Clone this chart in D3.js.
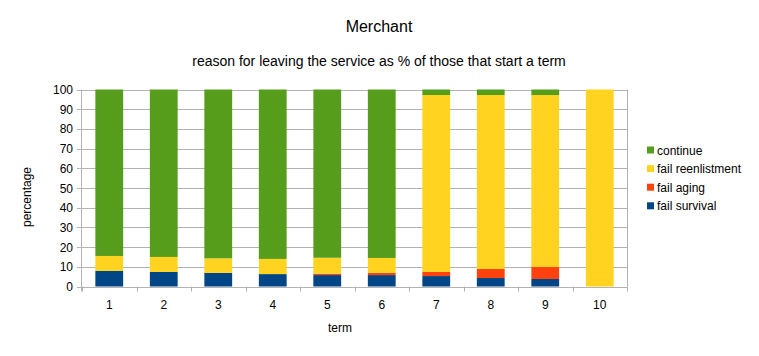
<!DOCTYPE html>
<html><head><meta charset="utf-8">
<script src="https://cdn.jsdelivr.net/npm/d3@7"></script>
<style>body{margin:0;background:#fff;} svg{font-family:"Liberation Sans",Arial,sans-serif;}</style>
</head><body><svg id="c" width="759" height="356"></svg>
<script>
const categories = ["1","2","3","4","5","6","7","8","9","10"];
const failSurvival = [7.9, 7.4, 6.9, 6.3, 5.8, 5.8, 5.3, 4.3, 3.8, 0];
const failAging = [0, 0, 0, 0, 0.7, 1.1, 2.1, 4.6, 6.1, 0];
const failReenlistment = [7.6, 7.6, 7.4, 7.7, 8.1, 7.6, 89.8, 88.3, 87.3, 100];
const continueVals = [84.5, 85.0, 85.7, 86.0, 85.4, 85.5, 2.8, 2.8, 2.8, 0];
const yTicks = [0,10,20,30,40,50,60,70,80,90,100];
const seriesNames = ["fail survival","fail aging","fail reenlistment","continue"];
const colors = ["#004586","#ff420e","#ffd320","#579d1c"];

const svg = d3.select("#c");
const L = 82, R = 627, T = 89.5, B = 286.5;
const x = d3.scaleBand().domain(categories).range([L, R]).paddingInner(0.49).paddingOuter(0.245);
const xb = d3.scaleBand().domain(categories).range([L, R]);
const y = d3.scaleLinear().domain([0,100]).range([B, T]);

const rows = categories.map((c,i)=>({cat:c, s0:failSurvival[i], s1:failAging[i], s2:failReenlistment[i], s3:continueVals[i]}));
const stack = d3.stack().keys(["s0","s1","s2","s3"])(rows);

// grid
svg.append("g").selectAll("line").data(yTicks).join("line")
  .attr("x1", L-5).attr("x2", R).attr("y1", d=>Math.round(y(d))+0.5).attr("y2", d=>Math.round(y(d))+0.5)
  .attr("stroke", "#b3b3b3").attr("stroke-width", 1);
svg.append("line").attr("x1", R+0.5).attr("x2", R+0.5).attr("y1", T).attr("y2", B).attr("stroke","#b3b3b3");
svg.append("line").attr("x1", L-0.5).attr("x2", L-0.5).attr("y1", T).attr("y2", B+5).attr("stroke","#b3b3b3");
const bounds = categories.map(c=>xb(c)).concat([R]);
svg.append("g").selectAll("line").data(bounds).join("line")
  .attr("x1", d=>Math.round(d)+0.5).attr("x2", d=>Math.round(d)+0.5).attr("y1", B).attr("y2", B+5)
  .attr("stroke","#b3b3b3");

// bars
stack.forEach((s,k)=>{
  svg.append("g").attr("fill", colors[k]).selectAll("rect").data(s).join("rect")
    .attr("x", d=>x(d.data.cat)).attr("width", x.bandwidth())
    .attr("y", d=>y(d[1])).attr("height", d=>Math.max(0, y(d[0])-y(d[1])));
});

svg.append("g").selectAll("text").data(yTicks).join("text")
  .attr("x", L-9).attr("y", d=>y(d)+4.5).attr("text-anchor","end")
  .attr("font-size", 12).attr("fill","#000").text(d=>d);
svg.append("g").selectAll("text").data(categories).join("text")
  .attr("x", d=>xb(d)+xb.bandwidth()/2).attr("y", B+22).attr("text-anchor","middle")
  .attr("font-size", 12).attr("fill","#000").text(d=>d);

svg.append("text").attr("x", 379).attr("y", 31.5).attr("text-anchor","middle").attr("font-size", 16).text("Merchant");
svg.append("text").attr("x", 379).attr("y", 66).attr("text-anchor","middle").attr("font-size", 14)
  .text("reason for leaving the service as % of those that start a term");
svg.append("text").attr("x", 340).attr("y", 332).attr("text-anchor","middle").attr("font-size", 12).text("term");
svg.append("text").attr("transform","translate(31,197) rotate(-90)").attr("text-anchor","middle").attr("font-size", 12).text("percentage");

const legendOrder = [3,2,1,0];
const lg = svg.append("g").selectAll("g").data(legendOrder).join("g")
  .attr("transform", (d,i)=>`translate(647,${150+i*18.6})`);
lg.append("rect").attr("x",0).attr("y",-3.5).attr("width",7).attr("height",7).attr("fill", d=>colors[d]);
lg.append("text").attr("x",10).attr("y",4.5).attr("font-size",12).text(d=>seriesNames[d]);
</script></body></html>
